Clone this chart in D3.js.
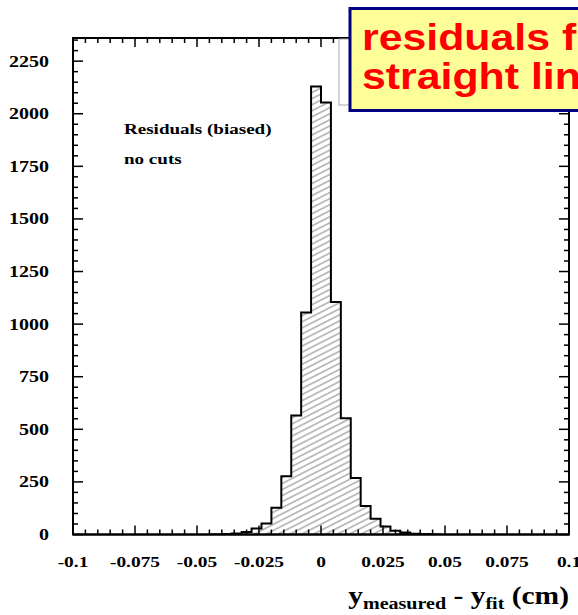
<!DOCTYPE html>
<html><head><meta charset="utf-8">
<script src="https://cdn.jsdelivr.net/npm/d3@7"></script>
<style>body{margin:0;background:#fff;overflow:hidden}svg{display:block}</style>
</head><body>
<script>
// ---- data ----
const binStart = -0.1;
const binWidth = 0.004;
const counts = [0,0,0,0,0,0,0,0,0,0,
                0,0,0,0,1,2,5,12,28,52,
                127,277,566,1055,2130,2054,1105,552,268,135,
                75,38,18,9,4,2,1,0,0,0,
                0,0,0,0,0,0,0,0,0,0];
const xTicks = [-0.1,-0.075,-0.05,-0.025,0,0.025,0.05,0.075,0.1];
const xTickLabels = ["-0.1","-0.075","-0.05","-0.025","0","0.025","0.05","0.075","0.1"];
const yTicks = [0,250,500,750,1000,1250,1500,1750,2000,2250];
const annot = ["Residuals (biased)","no cuts"];
const titleLines = ["residuals from","straight line fit"];

const W=578,H=615;
const svg=d3.select("body").append("svg").attr("width",W).attr("height",H);
const L=73,R=569,T=38,B=534.5;
const x=d3.scaleLinear().domain([-0.1,0.1]).range([L,R]);
const y=d3.scaleLinear().domain([0,2360]).range([B,T]);
const SX=1.25; // horizontal stretch of original picture text

// hatch pattern
const defs=svg.append("defs");
const pat=defs.append("pattern").attr("id","hatch").attr("patternUnits","userSpaceOnUse")
  .attr("width",20).attr("height",5.4).attr("patternTransform","rotate(-27)");
pat.append("line").attr("x1",0).attr("x2",20).attr("y1",2.7).attr("y2",2.7)
  .attr("stroke","#6e6e6e").attr("stroke-width",0.9);

// histogram path
const pts=[[x(binStart),y(0)]];
counts.forEach((c,i)=>{
  const lo=binStart+i*binWidth, hi=lo+binWidth;
  pts.push([x(lo),y(c)]); pts.push([x(hi),y(c)]);
});
pts.push([x(binStart+counts.length*binWidth),y(0)]);
svg.append("path").attr("d",d3.line()(pts)+"Z").attr("fill","url(#hatch)")
  .attr("stroke","#000").attr("stroke-width",2).attr("stroke-linejoin","miter");

// axes with inward ticks
const font="'Liberation Serif','Times New Roman',serif";
const g=svg.append("g");
function ticksX(ypos,dir){
  const minor=d3.range(0,41).map(i=>-0.1+i*0.005);
  minor.forEach((v,i)=>{
    const major=(i%5===0);
    g.append("line").attr("x1",x(v)).attr("x2",x(v)).attr("y1",ypos).attr("y2",ypos+dir*(major?9:5))
      .attr("stroke","#000").attr("stroke-width",1.5);
  });
}
function ticksY(xpos,dir){
  const minor=d3.range(0,48).map(i=>i*50);
  minor.forEach((v,i)=>{
    if(y(v)<T) return;
    const major=(i%5===0);
    g.append("line").attr("y1",y(v)).attr("y2",y(v)).attr("x1",xpos).attr("x2",xpos+dir*(major?10:5))
      .attr("stroke","#000").attr("stroke-width",1.5);
  });
}
ticksX(B,-1); ticksX(T,1); ticksY(L,1); ticksY(R,-1);
g.append("rect").attr("x",L).attr("y",T).attr("width",R-L).attr("height",B-T)
  .attr("fill","none").attr("stroke","#000").attr("stroke-width",2);

// tick labels
svg.append("g").selectAll("text").data(yTicks).join("text")
  .attr("transform",d=>`translate(49,${y(d)+5.5}) scale(${SX},1)`).attr("text-anchor","end")
  .attr("font-family",font).attr("font-weight","bold").attr("font-size",16).text(d=>d);
svg.append("g").selectAll("text").data(xTicks).join("text")
  .attr("transform",d=>`translate(${x(d)},567) scale(${SX},1)`).attr("text-anchor","middle")
  .attr("font-family",font).attr("font-weight","bold").attr("font-size",15.5)
  .text((d,i)=>xTickLabels[i]);

// axis title
const at=svg.append("text").attr("transform",`translate(569,604) scale(1.18,1)`).attr("text-anchor","end")
  .attr("font-family",font).attr("font-weight","bold").attr("font-size",25);
at.append("tspan").text("y");
at.append("tspan").attr("font-size",17).attr("dy",5).text("measured");
at.append("tspan").attr("dy",-5).text(" - y");
at.append("tspan").attr("font-size",17).attr("dy",5).text("fit");
at.append("tspan").attr("dy",-5).text(" (cm)");

// annotations
annot.forEach((t,i)=>{
  svg.append("text").attr("transform",`translate(124,${134+i*30}) scale(1.27,1)`)
    .attr("font-family",font).attr("font-weight","bold").attr("font-size",15).text(t);
});

// background grey box (partly hidden)
svg.append("rect").attr("x",339).attr("y",39).attr("width",260).attr("height",66)
  .attr("fill","#fff").attr("stroke","#aaa").attr("stroke-width",1);

// yellow title box
svg.append("rect").attr("x",350).attr("y",8.5).attr("width",260).attr("height",102)
  .attr("fill","#ffff99").attr("stroke","#000080").attr("stroke-width",3);
titleLines.forEach((t,i)=>{
  svg.append("text").attr("transform",`translate(362,${50+i*38.5}) scale(1.19,1)`)
    .attr("font-family","'Liberation Sans',Arial,sans-serif").attr("font-weight","bold")
    .attr("font-size",36).attr("fill","#ff0000").text(t);
});
</script>
</body></html>
